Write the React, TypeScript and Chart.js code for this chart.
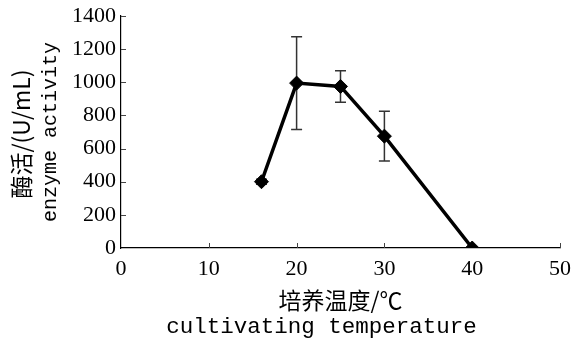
import React, { useEffect, useRef } from "react";
import { Chart, registerables } from "chart.js";

Chart.register(...registerables);

const temperatures = [16, 20, 25, 30, 40];
const activity = [400, 995, 975, 675, 0];
const activityError = [15, 280, 95, 150, 0];
const xTickValues = [0, 10, 20, 30, 40, 50];
const yTickValues = [0, 200, 400, 600, 800, 1000, 1200, 1400];
const yTitleLines = ["酶活/(U/mL)", "enzyme activity"];
const xTitleLines = ["培养温度/℃", "cultivating temperature"];

const TICK_FONT = '"Liberation Serif", "Times New Roman", serif';
const CJK_FONT = '"Noto Sans CJK SC", sans-serif';
const MONO_FONT = '"Liberation Mono", "DejaVu Sans Mono", monospace';

const decorPlugin = {
  id: "decor",
  beforeDatasetsDraw(chart: any) {
    const ctx = chart.ctx;
    const xs = chart.scales.x;
    const ys = chart.scales.y;
    const area = chart.chartArea;
    ctx.save();
    // error bars
    ctx.strokeStyle = "#333";
    ctx.lineWidth = 1.5;
    temperatures.forEach((t, i) => {
      const e = activityError[i];
      if (!e) return;
      const px = xs.getPixelForValue(t);
      const top = ys.getPixelForValue(activity[i] + e);
      const bot = ys.getPixelForValue(activity[i] - e);
      ctx.beginPath();
      ctx.moveTo(px, top);
      ctx.lineTo(px, bot);
      ctx.moveTo(px - 5.5, top);
      ctx.lineTo(px + 5.5, top);
      ctx.moveTo(px - 5.5, bot);
      ctx.lineTo(px + 5.5, bot);
      ctx.stroke();
    });
    // inward tick marks
    ctx.strokeStyle = "#444";
    ctx.lineWidth = 1;
    ctx.beginPath();
    xTickValues.forEach((v) => {
      if (v === xs.min) return;
      const px = Math.round(xs.getPixelForValue(v)) + 0.5;
      ctx.moveTo(px, area.bottom);
      ctx.lineTo(px, area.bottom - 5);
    });
    yTickValues.forEach((v) => {
      if (v === ys.min) return;
      const py = Math.round(ys.getPixelForValue(v)) + 0.5;
      ctx.moveTo(area.left, py);
      ctx.lineTo(area.left + 5, py);
    });
    ctx.stroke();
    ctx.restore();
  },
  afterDraw(chart: any) {
    const ctx = chart.ctx;
    const area = chart.chartArea;
    const midY = (area.top + area.bottom) / 2;
    const midX = (area.left + area.right) / 2;
    ctx.save();
    ctx.fillStyle = "#000";
    ctx.textAlign = "center";
    ctx.textBaseline = "middle";
    // y title
    ctx.save();
    ctx.translate(area.left - 100, midY + 2);
    ctx.rotate(-Math.PI / 2);
    ctx.font = `23px ${CJK_FONT}`;
    ctx.fillText(yTitleLines[0], 0, 0);
    ctx.restore();
    ctx.save();
    ctx.translate(area.left - 70, midY);
    ctx.rotate(-Math.PI / 2);
    ctx.font = `20px ${MONO_FONT}`;
    ctx.fillText(yTitleLines[1], 0, 0);
    ctx.restore();
    // x title
    ctx.font = `23px ${CJK_FONT}`;
    ctx.fillText(xTitleLines[0], midX, area.bottom + 52);
    ctx.font = `22.5px ${MONO_FONT}`;
    ctx.fillText(xTitleLines[1], midX - 19, area.bottom + 79);
    ctx.restore();
  },
};

export default function App() {
  const canvasRef = useRef<HTMLCanvasElement | null>(null);

  useEffect(() => {
    if (!canvasRef.current) return;
    const chart = new Chart(canvasRef.current, {
      type: "line",
      data: {
        datasets: [
          {
            data: temperatures.map((t, i) => ({ x: t, y: activity[i] })),
            borderColor: "#000",
            backgroundColor: "#000",
            borderWidth: 3.5,
            pointStyle: "rectRot",
            pointRadius: 7,
            pointBorderWidth: 1,
            pointBackgroundColor: "#000",
            pointBorderColor: "#000",
            tension: 0,
          },
        ],
      },
      options: {
        responsive: false,
        animation: false,
        events: [],
        layout: { padding: { top: 16, right: 14, left: 0, bottom: 0 } },
        plugins: { legend: { display: false }, tooltip: { enabled: false }, title: { display: false } },
        scales: {
          x: {
            type: "linear",
            min: 0,
            max: 50,
            afterBuildTicks: (s: any) => {
              s.ticks = xTickValues.map((v) => ({ value: v }));
            },
            afterFit: (s: any) => {
              s.height = 90;
              s.paddingLeft = 0;
              s.paddingRight = 0;
            },
            grid: { display: true, drawOnChartArea: false, drawTicks: false },
            border: { display: true, color: "#000", width: 1.2 },
            ticks: {
              color: "#000",
              padding: 8,
              maxRotation: 0,
              callback: (v: any) => String(v),
              font: { family: TICK_FONT, size: 22 },
            },
          },
          y: {
            type: "linear",
            min: 0,
            max: 1400,
            afterBuildTicks: (s: any) => {
              s.ticks = yTickValues.map((v) => ({ value: v }));
            },
            afterFit: (s: any) => {
              s.width = 121;
              s.paddingTop = 0;
              s.paddingBottom = 0;
            },
            grid: { display: true, drawOnChartArea: false, drawTicks: false },
            border: { display: true, color: "#000", width: 1.2 },
            ticks: {
              color: "#000",
              padding: 5,
              callback: (v: any) => String(v),
              font: { family: TICK_FONT, size: 22 },
            },
          },
        },
      },
      plugins: [decorPlugin],
    });
    return () => chart.destroy();
  }, []);

  return (
    <div style={{ position: "fixed", left: 0, top: 0, width: 574, height: 338, background: "#fff" }}>
      <canvas ref={canvasRef} width={574} height={338} />
    </div>
  );
}
